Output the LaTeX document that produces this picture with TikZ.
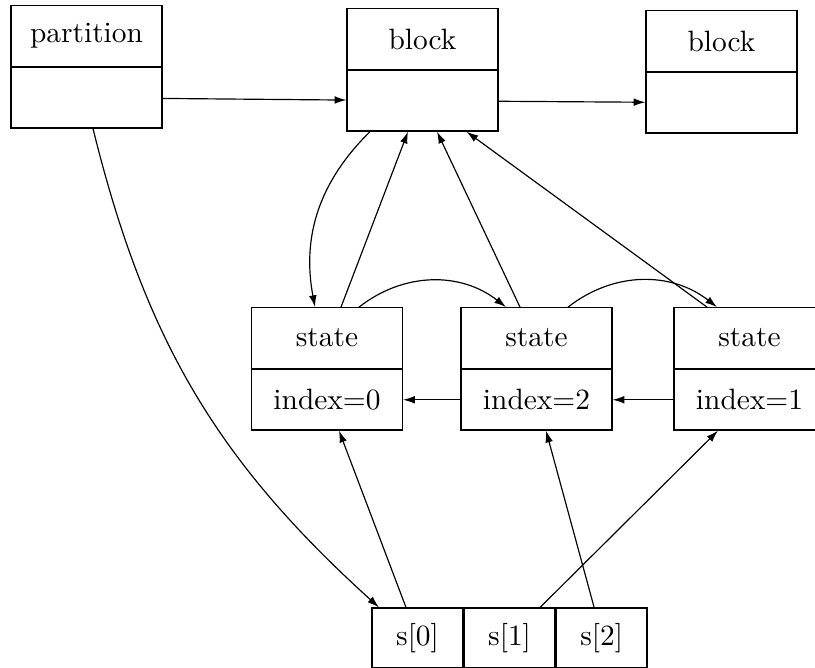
\documentclass[tikz,border=0pt]{standalone}
\usepackage{tikz}
\usetikzlibrary{positioning,arrows.meta,calc}

\begin{document}
\begin{tikzpicture}[x=0.34pt, y=0.34pt, >={Latex[length=4pt,width=2.6pt]},
    hd/.style={draw, minimum width=51.3pt, minimum height=20.6pt},
    cell/.style={draw, minimum width=30.9pt, minimum height=20.4pt}]
    \useasboundingbox (0,0) rectangle (815,667);
    % top row
    \node[hd] (part) at (86.5,631) {partition};
    \node[hd, below=0pt of part] (partb) {};
    \node[hd] (blk1) at (422.5,628) {block};
    \node[hd, below=0pt of blk1] (blk1b) {};
    \node[hd] (blk2) at (721.5,626) {block};
    \node[hd, below=0pt of blk2] (blk2b) {};
    % states
    \node[hd] (st0) at (327,329) {state};
    \node[hd, below=0pt of st0] (st0b) {index=0};
    \node[hd] (st2) at (536.5,329) {state};
    \node[hd, below=0pt of st2] (st2b) {index=2};
    \node[hd] (st1) at (749.5,329) {state};
    \node[hd, below=0pt of st1] (st1b) {index=1};
    % array
    \node[cell] (s0) at (417.5,29) {s[0]};
    \node[cell, right=0pt of s0] (s1) {s[1]};
    \node[cell, right=0pt of s1] (s2) {s[2]};

    \draw[->] (partb) -- (blk1b);
    \draw[->] (blk1b) -- (blk2b);
    \draw[->] ($(blk1b.south)+(-52.5,0)$) to[bend right=28] ($(st0.north)+(-12,0)$);
    \draw[->] ($(st0.north)+(14,0)$) -- ($(blk1b.south)+(-14.5,0)$);
    \draw[->] ($(st2.north)+(-16.5,0)$) -- ($(blk1b.south)+(14.5,0)$);
    \draw[->] ($(st1.north)+(-42.5,0)$) -- ($(blk1b.south)+(44,0)$);
    \draw[->] ($(st0.north)+(32,0)$) to[bend left=38] ($(st2.north)+(-30.5,0)$);
    \draw[->] ($(st2.north)+(31.5,0)$) to[bend left=38] ($(st1.north)+(-32.5,0)$);
    \draw[->] (st2b) -- (st0b);
    \draw[->] (st1b) -- (st2b);
    \draw[->] ($(partb.south)+(6.5,0)$) to[bend right=17] ($(s0.north)+(-38.5,0)$);
    \draw[->] ($(s0.north)+(-11.5,0)$) -- ($(st0b.south)+(12,0)$);
    \draw[->] ($(s2.north)+(-7.5,0)$) -- ($(st2b.south)+(9.5,0)$);
    \draw[->] ($(s1.north)+(30.5,0)$) -- ($(st1b.south)+(-31.5,0)$);
\end{tikzpicture}
\end{document}
